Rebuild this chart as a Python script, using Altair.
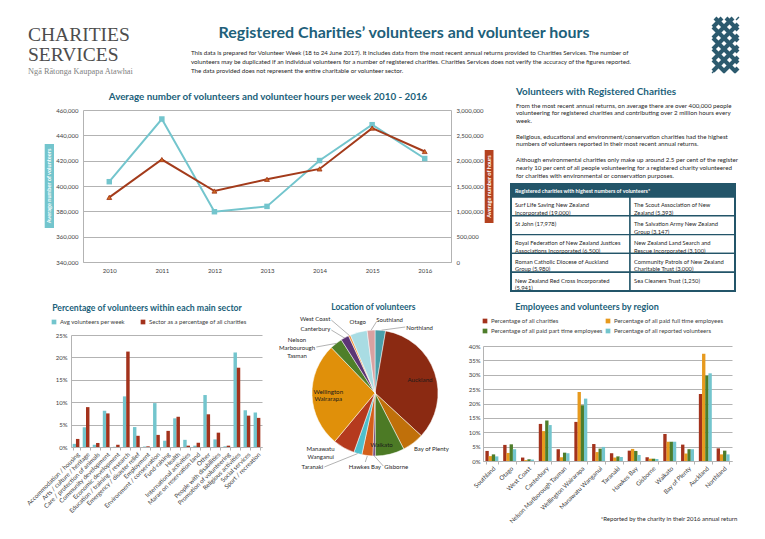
import altair as alt
import pandas as pd

FONT = "Lato"
SERIF = "Liberation Serif"
HEAD = "#215F7A"
TABLE_DARK = "#235569"
INK = "#262626"
LABEL = "#404040"
GRID = "#B3B3B3"
TEAL = "#73C5CD"
RED = "#A3321C"
ORANGE = "#E79A1E"
GREEN = "#4E7D2B"

# ---------------- data ----------------
header_desc = [
    "This data is prepared for Volunteer Week (18 to 24 June 2017).  It includes data from the most recent annual returns provided to Charities Services.  The number of",
    "volunteers may be duplicated if an individual volunteers for a number of registered charities.  Charities Services does not verify the accuracy of the figures reported.",
    "The data provided does not represent the entire charitable or volunteer sector.",
]

years = ["2010", "2011", "2012", "2013", "2014", "2015", "2016"]
avg_volunteers = [403400, 452900, 379700, 383900, 420100, 448400, 421700]
avg_hours = [1275000, 2022000, 1401000, 1632000, 1837000, 2643000, 2181000]
vol_ticks = [340000, 360000, 380000, 400000, 420000, 440000, 460000]
hour_ticks = [0, 500000, 1000000, 1500000, 2000000, 2500000, 3000000]

panel_heading = "Volunteers with Registered Charities"
panel_paragraphs = [
    ["From the most recent annual returns, on average there are over 400,000 people",
     "volunteering for registered charities and contributing over 2 million hours every",
     "week."],
    ["Religious, educational and environment/conservation charities had the highest",
     "numbers of volunteers reported in their most recent annual returns."],
    ["Although environmental charities only make up around 2.5 per cent of the register",
     "nearly 10 per cent of all people volunteering for a registered charity volunteered",
     "for charities with environmental or conservation purposes."],
]
table_title = "Registered charities with highest numbers of volunteers*"
table_left = [
    "Surf Life Saving New Zealand\nIncorporated (19,000)",
    "St John (17,978)\n",
    "Royal Federation of New Zealand Justices\nAssociations Incorporated (6,500)",
    "Roman Catholic Diocese of Auckland\nGroup (5,980)",
    "New Zealand Red Cross Incorporated\n(5,941)",
]
table_right = [
    "The Scout Association of New\nZealand (5,393)",
    "The Salvation Army New Zealand\nGroup (3,147)",
    "New Zealand Land Search and\nRescue Incorporated (3,100)",
    "Community Patrols of New Zealand\nCharitable Trust (3,000)",
    "Sea Cleaners Trust (1,250)\n",
]

sectors = [
    "Accommodation / housing", "Arts / culture / heritage", "Care / protection of animals",
    "Community development", "Economic development", "Education / training / research",
    "Emergency / disaster relief", "Employment", "Environment / conservation", "Fund-raising",
    "Health", "International activities", "Marae on reservation land", "Other",
    "People with disabilities", "Promotion of volunteering", "Religious activities",
    "Social services", "Sport / recreation",
]
sector_avg_volunteers = [0.7, 4.4, 0.5, 8.1, 0.05, 11.3, 4.45, 0.1, 9.8, 1.4,
                         6.4, 1.6, 0.3, 11.6, 1.7, 0.15, 21.1, 8.2, 7.7]
sector_pct_charities = [1.8, 8.9, 0.9, 7.5, 0.5, 21.3, 2.5, 0.15, 2.7, 3.6,
                        6.75, 0.3, 0.95, 7.3, 3.2, 0.3, 17.7, 7.0, 6.5]
sector_series = ["Avg volunteers per week", "Sector as a percentage of all charities"]

pie_regions = ["Northland", "Auckland", "Bay of Plenty", "Waikato", "Gisborne", "Hawkes Bay",
               "Taranaki", "Manawatu Wanganui", "Wellington Wairarapa",
               "Nelson Marlborough Tasman", "Canterbury", "West Coast", "Otago", "Southland"]
pie_share = [2.7, 34.2, 5.6, 7.5, 0.6, 2.8, 2.1, 5.6, 26.8, 3.2, 2.1, 0.5, 4.4, 2.0]
pie_colors = ["#4A9FA9", "#8B2A12", "#C0700A", "#4C7A25", "#5E3370", "#D35F1A", "#4FBFCB",
              "#B53A1E", "#E0900A", "#4E7F2A", "#5C3575", "#F28A30", "#A9DCE3", "#D9A1A1"]

regions = ["Southland", "Otago", "West Coast", "Canterbury", "Nelson Marlborough Tasman",
           "Wellington Wairarapa", "Manawatu Wanganui", "Taranaki", "Hawkes Bay", "Gisborne",
           "Waikato", "Bay of Plenty", "Auckland", "Northland"]
pct_charities = [3.5, 5.6, 1.2, 12.9, 4.1, 13.6, 5.9, 2.7, 3.6, 1.3, 9.4, 5.7, 23.3, 4.4]
pct_fulltime = [1.7, 2.8, 0.3, 10.4, 1.3, 24.0, 3.1, 1.2, 4.2, 0.8, 6.7, 2.6, 37.3, 2.3]
pct_parttime = [2.3, 5.8, 0.6, 14.1, 2.9, 19.4, 4.3, 1.6, 3.5, 0.8, 6.7, 4.1, 29.7, 3.6]
pct_volunteers = [1.6, 4.1, 0.5, 12.5, 2.7, 21.7, 4.9, 1.4, 2.1, 0.7, 6.7, 4.1, 30.5, 2.3]
region_series = ["Percentage of all charities", "Percentage of all paid full time employees",
                 "Percentage of all paid part time employees", "Percentage of all reported volunteers"]
region_colors = [RED, ORANGE, GREEN, TEAL]

# ---------------- helpers ----------------
dummy = pd.DataFrame({"d": [0]})


def T(text, x, y, size=6.0, color=INK, align="left", baseline="middle", weight="normal",
      font=FONT, angle=None):
    kw = dict(text=text, fontSize=size, color=color, align=align, baseline=baseline,
              fontWeight=weight, font=font)
    if angle is not None:
        kw["angle"] = angle
    return alt.Chart(dummy).mark_text(**kw).encode(x=alt.value(x), y=alt.value(y))


def R(x, x2, y, y2, fill, stroke=None, sw=0):
    kw = dict(fill=fill)
    if stroke:
        kw.update(stroke=stroke, strokeWidth=sw)
    return alt.Chart(dummy).mark_rect(**kw).encode(
        x=alt.value(x), x2=alt.value(x2), y=alt.value(y), y2=alt.value(y2))


def L(x, y, x2, y2, color="#7F7F7F", sw=0.6):
    return alt.Chart(dummy).mark_rule(color=color, strokeWidth=sw).encode(
        x=alt.value(x), y=alt.value(y), x2=alt.value(x2), y2=alt.value(y2))


def spacer(w, h):
    return alt.Chart(dummy).mark_point(opacity=0).encode(
        x=alt.value(0), y=alt.value(0)).properties(width=w, height=h)


# ---------------- header ----------------
def logo_segments(x0, y0, w, h, step):
    segs = []
    for sign in (1, -1):
        c = -w - h
        while c < w + h * 2:
            pts = []
            for x in (0, w):
                y = sign * x + c
                if 0 <= y <= h:
                    pts.append((x, y))
            for y in (0, h):
                x = (y - c) * sign
                if 0 <= x <= w:
                    pts.append((x, y))
            uniq = []
            for p in pts:
                if all(abs(p[0] - q[0]) > 1e-6 or abs(p[1] - q[1]) > 1e-6 for q in uniq):
                    uniq.append(p)
            if len(uniq) >= 2:
                segs.append({"x1": x0 + uniq[0][0], "y1": y0 + uniq[0][1],
                             "x2": x0 + uniq[1][0], "y2": y0 + uniq[1][1]})
            c += step
    return pd.DataFrame(segs)


logo = alt.Chart(logo_segments(702, 10, 25, 54, 11)).mark_rule(
    color="#2C5A6E", strokeWidth=4.0).encode(
    x=alt.X("x1:Q", scale=None), y=alt.Y("y1:Q", scale=None), x2="x2:Q", y2="y2:Q")

header_layers = [
    T("CHARITIES", 17, 33, size=19.5, color="#4D4D4D", baseline="alphabetic", font=SERIF),
    T("SERVICES", 17, 53, size=19.5, color="#4D4D4D", baseline="alphabetic", font=SERIF),
    T("Ngā Rātonga Kaupapa Atawhai", 17, 66, size=8.3, color="#7F7F7F", baseline="alphabetic", font=SERIF),
    T("Registered Charities’ volunteers and volunteer hours", 393, 30, size=16, color=HEAD,
      align="center", baseline="alphabetic", weight="bold"),
]
for i, line in enumerate(header_desc):
    header_layers.append(T(line, 180, 44.5 + i * 9, size=6.2, color=INK))
header_layers.append(logo)
header = alt.layer(*header_layers).properties(width=740, height=102)

# ---------------- line chart ----------------
line_df = pd.DataFrame({"year": years, "volunteers": avg_volunteers, "hours": avg_hours})
xline = alt.X("year:O", sort=years, scale=alt.Scale(type="point", padding=0.5),
              axis=alt.Axis(title=None, labelAngle=0, ticks=False, domainColor=GRID,
                            labelColor=LABEL, labelFontSize=6.0, labelPadding=5))
yvol = alt.Y("volunteers:Q", scale=alt.Scale(domain=[340000, 460000], nice=False, zero=False),
             axis=alt.Axis(orient="left", values=vol_ticks, format=",d", title=None, grid=True,
                           gridColor=GRID, ticks=False, domainColor=GRID, labelColor=LABEL,
                           labelFontSize=6.0, labelPadding=5))
yhr = alt.Y("hours:Q", scale=alt.Scale(domain=[0, 3000000], nice=False),
            axis=alt.Axis(orient="right", values=hour_ticks, format=",d", title=None, grid=False,
                          ticks=False, domainColor=GRID, labelColor=LABEL, labelFontSize=6.0,
                          labelPadding=5))
vol_layer = alt.layer(
    alt.Chart(line_df).mark_line(color=TEAL, strokeWidth=2).encode(x=xline, y=yvol),
    alt.Chart(line_df).mark_point(shape="square", filled=True, size=30, color=TEAL,
                                  opacity=1).encode(x=xline, y=yvol),
)
hrs_layer = alt.layer(
    alt.Chart(line_df).mark_line(color="#A33B1B", strokeWidth=2).encode(x=xline, y=yhr),
    alt.Chart(line_df).mark_point(shape="triangle-up", filled=True, size=24, fill="#D0691F",
                                  stroke="#9E3416", strokeWidth=0.8, opacity=1).encode(x=xline, y=yhr),
)
line_chart = alt.layer(
    vol_layer, hrs_layer,
    T("Average number of volunteers and volunteer hours per week 2010 - 2016", 185, -13,
      size=9.8, color=HEAD, align="center", weight="bold"),
    R(-38.3, -29, 34, 118, TEAL),
    T("Average number of volunteers", -33.6, 76, size=5.6, color="white", align="center",
      weight="bold", angle=270),
    R(401.7, 410.5, 40, 113, "#B4421F"),
    T("Average number of hours", 406.1, 76.5, size=5.6, color="white", align="center",
      weight="bold", angle=270),
).resolve_scale(y="independent").properties(width=368, height=152)

# ---------------- right text panel ----------------
panel_layers = [T(panel_heading, 5, -18.3, size=9.9, color=HEAD, weight="bold")]
para_y = [[-4.3, 3.4, 11.1], [26.7, 34.4], [50.3, 58.2, 66.1]]
for lines, ys in zip(panel_paragraphs, para_y):
    for line, yy in zip(lines, ys):
        panel_layers.append(T(line, 5, yy, size=6.2, color=INK))

tbl_records = []
for i, (lt, rt) in enumerate(zip(table_left, table_right)):
    tbl_records.append({"row": i, "col": 0, "text": lt})
    tbl_records.append({"row": i, "col": 1, "text": rt})
tbl_df = pd.DataFrame(tbl_records)
tx = alt.Scale(domain=[0, 1, 2], range=[0, 119, 224])
ty = alt.Scale(domain=[0, 5], range=[87, 181])
tbl_base = alt.Chart(tbl_df).transform_calculate(
    c1="datum.col + 1", r1="datum.row + 1", rm="datum.row + 0.5")
cells = tbl_base.mark_rect(fill="white", stroke=TABLE_DARK, strokeWidth=1.4).encode(
    x=alt.X("col:Q", scale=tx, axis=None), x2="c1:Q",
    y=alt.Y("row:Q", scale=ty, axis=None), y2="r1:Q")
cell_text = tbl_base.mark_text(align="left", baseline="middle", lineBreak="\n", lineHeight=7.7,
                               fontSize=5.8, color=INK, dx=4, dy=-1).encode(
    x=alt.X("col:Q", scale=tx, axis=None), y=alt.Y("rm:Q", scale=ty, axis=None), text="text:N")
panel_layers += [
    R(0, 224, 74, 87, TABLE_DARK),
    T(table_title, 4, 80.5, size=5.4, color="white", weight="bold"),
    cells, cell_text,
    R(0, 224, 74, 181, "transparent", stroke=TABLE_DARK, sw=2),
]
text_panel = alt.layer(*panel_layers).properties(width=224, height=152)


def cat_axis():
    return alt.Axis(title=None, labelAngle=-45, labelAlign="right", labelBaseline="top",
                    ticks=True, tickBand="extent", tickSize=3, tickColor=GRID,
                    labelFontSize=6.2, labelColor=LABEL, domainColor=GRID,
                    labelLimit=300, labelPadding=1)


def grouped_bars(df, cat_field, cat_order, ser_field, ser_order, val_field, y_scale, y_axis,
                 color_enc, bar_w, pad_inner):
    layers = []
    n = len(ser_order)
    for i, s in enumerate(ser_order):
        off = (i - (n - 1) / 2) * bar_w
        layers.append(
            alt.Chart(df).transform_filter(alt.datum[ser_field] == s).mark_bar(
                width=bar_w + 0.15, xOffset=off).encode(
                x=alt.X(f"{cat_field}:N", sort=cat_order,
                        scale=alt.Scale(domain=cat_order, paddingInner=pad_inner),
                        axis=cat_axis()),
                y=alt.Y(f"{val_field}:Q", scale=y_scale, axis=y_axis),
                color=color_enc,
            ))
    return layers


# ---------------- sector bar chart (plot top 225 below row top) ----------------
S_OFF = 225
sec_df = pd.DataFrame({
    "sector": sectors * 2,
    "series_l": [sector_series[0]] * len(sectors) + [sector_series[1]] * len(sectors),
    "sec_value": [v / 100 for v in sector_avg_volunteers + sector_pct_charities],
})
sec_color = alt.Color("series_l:N", sort=sector_series,
                      scale=alt.Scale(domain=sector_series, range=[TEAL, RED]),
                      legend=alt.Legend(orient="none", legendX=-20, legendY=S_OFF - 16,
                                        direction="horizontal", title=None, symbolType="square",
                                        symbolSize=22, symbolStrokeWidth=0, labelFontSize=6.0,
                                        labelColor=LABEL, columnPadding=14, labelOffset=3))
sec_y_scale = alt.Scale(domain=[0, 0.25], nice=False, range=[S_OFF + 112, S_OFF])
sec_y_axis = alt.Axis(values=[0, 0.05, 0.10, 0.15, 0.20, 0.25], format=".0%", title=None,
                      grid=True, gridColor=GRID, ticks=False, domainColor=GRID,
                      labelColor=LABEL, labelFontSize=6.0, labelPadding=4)
sec_chart = alt.layer(
    *grouped_bars(sec_df, "sector", sectors, "series_l", sector_series, "sec_value",
                  sec_y_scale, sec_y_axis, sec_color, 3.3, 0.3),
    T("Percentage of volunteers within each main sector", 76, S_OFF - 27.3, size=8.7,
      color=HEAD, align="center", weight="bold"),
).properties(width=191, height=S_OFF + 112)

# ---------------- pie chart (centre 283 below row top) ----------------
CX, CY = 65, 283
pie_df = pd.DataFrame({"region_p": pie_regions, "share": pie_share,
                       "idx": list(range(len(pie_regions)))})
pie_arcs = alt.Chart(pie_df).mark_arc(outerRadius=63, stroke="white", strokeWidth=0.5).encode(
    x=alt.value(CX), y=alt.value(CY),
    theta=alt.Theta("share:Q", stack=True),
    order=alt.Order("idx:Q"),
    color=alt.Color("region_p:N", scale=alt.Scale(domain=pie_regions, range=pie_colors),
                    legend=None),
)
pie_chart = alt.layer(
    pie_arcs,
    T("Location of volunteers", 63.3, 197, size=8.5, color=HEAD, align="center", weight="bold"),
    L(21.3, 210, 39.3, 225.4), L(21.3, 220, 34.5, 228), L(6.3, 237, 26.2, 233.4),
    L(66.3, 212, 61.2, 220.1), L(95.3, 217, 71.5, 220.2),
    L(73.3, 356, 64.3, 346), L(55.3, 352, 57.3, 346), L(14.3, 357, 47.6, 343.6),
    T("Auckland", 110, 270, size=6.2, color="#1A1A1A", align="center"),
    T("Waikato", 71.6, 335, size=6.2, color="#1A1A1A", align="center"),
    T("Wellington", 18.3, 281.7, size=6.2, color="#1A1A1A", align="center"),
    T("Wairarapa", 18.3, 289.3, size=6.2, color="#1A1A1A", align="center"),
    T("Northland", 96.3, 217.7, size=6.0),
    T("Southland", 66.3, 210, size=6.0),
    T("Otago", 47.8, 212.3, size=6.0, align="center"),
    T("West Coast", 20.3, 209.3, size=6.0, align="right"),
    T("Canterbury", 20.3, 219.3, size=6.0, align="right"),
    T("Nelson", -13, 230, size=6.0, align="center"),
    T("Marbourough", -13, 238, size=6.0, align="center"),
    T("Tasman", -13, 246, size=6.0, align="center"),
    T("Bay of Plenty", 104, 339, size=6.0),
    T("Gisborne", 74.3, 356.7, size=6.0),
    T("Hawkes Bay", 54.8, 357, size=6.0, align="center"),
    T("Taranaki", 13.3, 357, size=6.0, align="right"),
    T("Manawatu", -3.4, 339, size=6.0),
    T("Wanganui", -2.4, 346.7, size=6.0),
).properties(width=130, height=130)

# ---------------- region bar chart (plot top 236 below row top) ----------------
R_OFF = 236
reg_values = pct_charities + pct_fulltime + pct_parttime + pct_volunteers
reg_df = pd.DataFrame({
    "region_b": regions * 4,
    "series_r": [s for s in region_series for _ in regions],
    "reg_value": [v / 100 for v in reg_values],
})
# legend is laid out column by column: order the colour domain so rows read as in the reference
legend_order = [region_series[0], region_series[2], region_series[1], region_series[3]]
legend_colors = [region_colors[0], region_colors[2], region_colors[1], region_colors[3]]
reg_color = alt.Color("series_r:N", sort=legend_order,
                      scale=alt.Scale(domain=legend_order, range=legend_colors),
                      legend=alt.Legend(orient="none", legendX=-1, legendY=R_OFF - 28, columns=2,
                                        title=None, symbolType="square", symbolSize=22,
                                        symbolStrokeWidth=0, labelFontSize=6.0, labelColor=LABEL,
                                        columnPadding=2, rowPadding=4, labelOffset=3))
reg_y_scale = alt.Scale(domain=[0, 0.40], nice=False, range=[R_OFF + 115, R_OFF])
reg_y_axis = alt.Axis(values=[0, 0.05, 0.10, 0.15, 0.20, 0.25, 0.30, 0.35, 0.40], format=".0%",
                      title=None, grid=True, gridColor=GRID, ticks=False, domainColor=GRID,
                      labelColor=LABEL, labelFontSize=6.0, labelPadding=3)
reg_chart = alt.layer(
    *grouped_bars(reg_df, "region_b", regions, "series_r", region_series, "reg_value",
                  reg_y_scale, reg_y_axis, reg_color, 3.2, 0.3),
    T("Employees and volunteers by region", 104, R_OFF - 39.3, size=9.0, color=HEAD,
      align="center", weight="bold"),
    T("*Reported by the charity in their 2016 annual return", 186, R_OFF + 173.3, size=6.0,
      align="center"),
).properties(width=249, height=R_OFF + 115)

# ---------------- layout ----------------
ALL_INDEP = dict(x="independent", y="independent", color="independent")
row_b = alt.hconcat(spacer(72, 152), line_chart, spacer(60, 152), text_panel,
                    spacing=0, bounds="flush").resolve_scale(**ALL_INDEP)
row_c = alt.hconcat(spacer(60, 1), sec_chart, spacer(48, 1), pie_chart, spacer(43, 1), reg_chart,
                    spacing=0, bounds="flush").resolve_scale(**ALL_INDEP)

chart = alt.vconcat(header, row_b, row_c, spacing=0, bounds="flush").resolve_scale(
    **ALL_INDEP).properties(padding=0, background="white").configure(
    font=FONT, view=alt.ViewConfig(stroke=None))

chart.save("out.html", embed_options={"renderer": "svg", "actions": False})
